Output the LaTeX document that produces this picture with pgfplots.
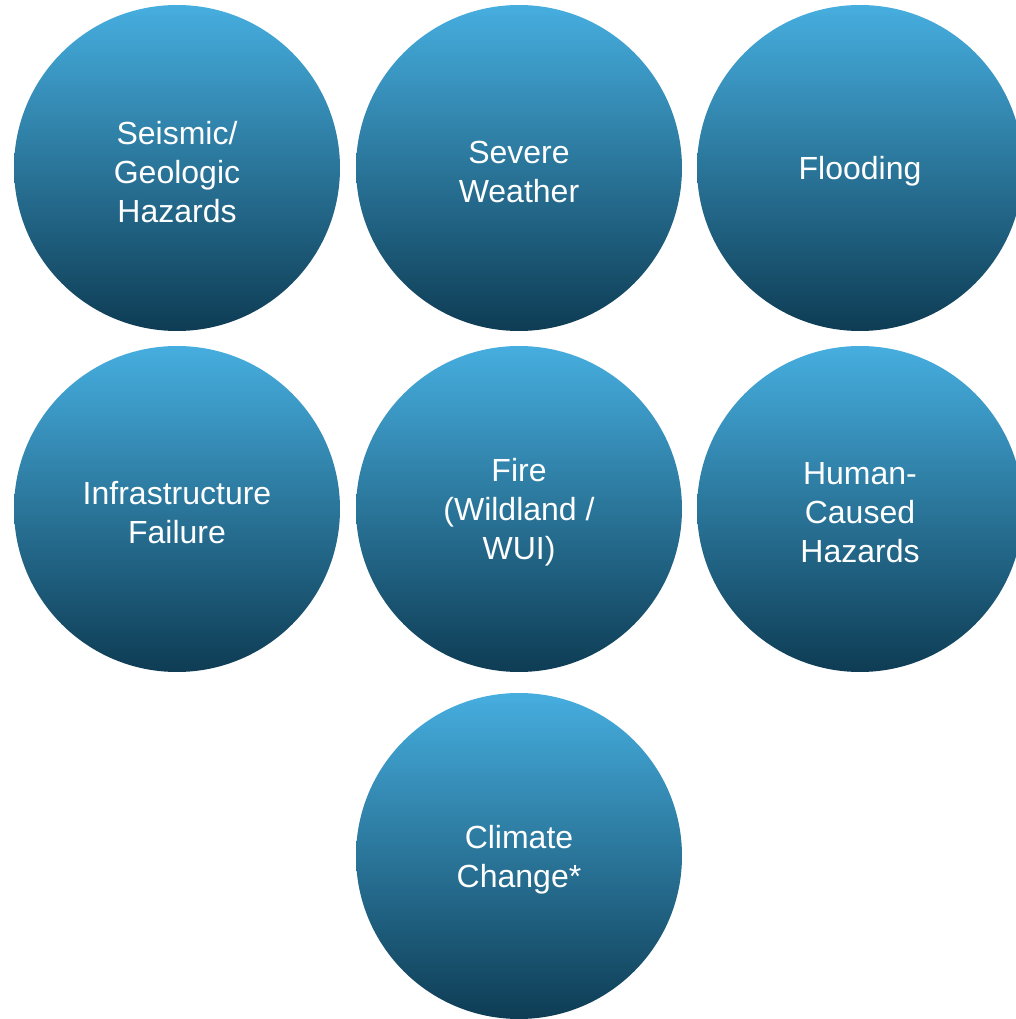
\documentclass[border=0pt]{standalone}
\usepackage{pgfplots}
\pgfplotsset{compat=1.18}
\usepackage{fontspec}
\setmainfont{Liberation Sans}
\definecolor{ctop}{RGB}{70,174,223}
\definecolor{cmid}{RGB}{28,106,142}
\definecolor{cbot}{RGB}{14,60,84}
\begin{document}
\begin{tikzpicture}
\useasboundingbox (0,0) rectangle (254pt,254.75pt);
\begin{axis}[
  at={(0,0)}, anchor=south west,
  scale only axis, width=254pt, height=254.75pt,
  xmin=0, xmax=1016, ymin=0, ymax=1019,
  hide axis, clip=false,
]
% circles
\addplot[only marks, mark=none,
  nodes near coords={},
  every node near coord/.style={anchor=center, circle, inner sep=0pt,
    minimum size=81.5pt, top color=ctop, middle color=cmid, bottom color=cbot,
    draw=none},
] coordinates {
  (177,851) (519,851) (860,851)
  (177,510) (519,510) (860,510)
  (519,163)
};
% labels
\addplot[only marks, mark=none,
  nodes near coords,
  point meta=explicit symbolic,
  every node near coord/.style={anchor=center, inner sep=0pt, yshift=-0.9pt,
    text=white, align=center,
    font=\fontsize{8}{9.75}\selectfont},
] coordinates {
  (177,851) [{Seismic/\\Geologic\\Hazards}]
  (519,851) [{Severe\\Weather}]
  (860,851) [{Flooding}]
  (177,510) [{Infrastructure\\Failure}]
  (519,510) [{Fire\\(Wildland /\\WUI)}]
  (860,510) [{Human-\\Caused\\Hazards}]
  (519,163) [{Climate\\Change*}]
};
\end{axis}
\end{tikzpicture}
\end{document}
